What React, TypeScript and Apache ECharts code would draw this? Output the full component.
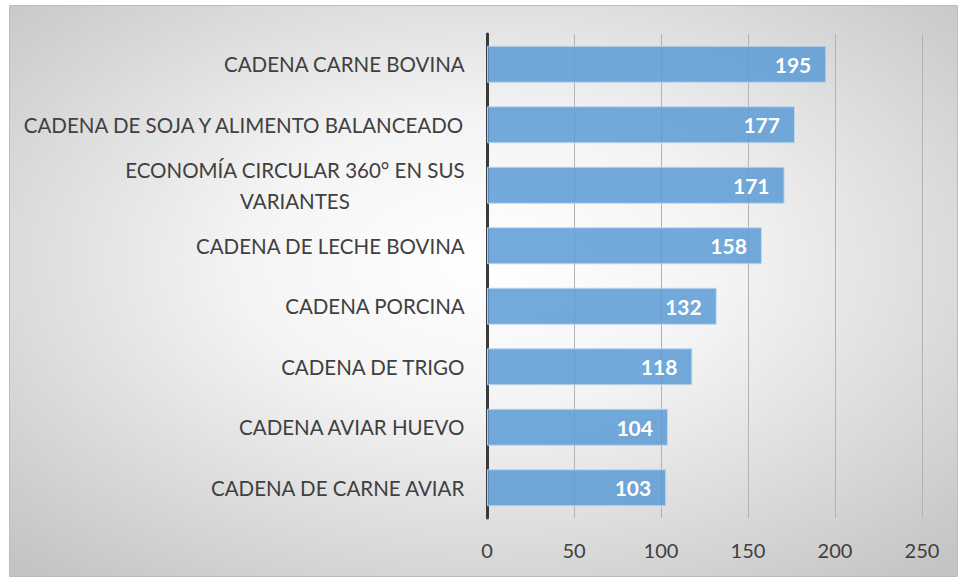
import React, { useEffect, useRef } from "react";
import * as echarts from "echarts";

const categories = [
  "CADENA CARNE BOVINA",
  "CADENA DE SOJA Y ALIMENTO BALANCEADO",
  "ECONOMÍA CIRCULAR 360° EN SUS\nVARIANTES",
  "CADENA DE LECHE BOVINA",
  "CADENA PORCINA",
  "CADENA DE TRIGO",
  "CADENA AVIAR HUEVO",
  "CADENA DE CARNE AVIAR",
];
const values = [195, 177, 171, 158, 132, 118, 104, 103];
const xTicks = { min: 0, max: 250, interval: 50 };

const FONT = "Lato, 'Open Sans', sans-serif";

export default function App() {
  const ref = useRef<HTMLDivElement>(null);
  useEffect(() => {
    if (!ref.current) return;
    const chart = echarts.init(ref.current, undefined, { renderer: "svg" });
    chart.setOption({
      animation: false,
      graphic: [
        {
          type: "rect",
          z: -10,
          silent: true,
          shape: { x: 9.5, y: 5.5, width: 948, height: 571 },
          style: {
            fill: new echarts.graphic.RadialGradient(0.5, 0.45, 0.72, [
              { offset: 0, color: "#ffffff" },
              { offset: 0.35, color: "#f4f4f4" },
              { offset: 1, color: "#c4c4c4" },
            ]),
            stroke: "#bdbdbd",
            lineWidth: 1,
          },
        },
      ],
      grid: { left: 487, right: 36, top: 34, bottom: 59, containLabel: false },
      xAxis: {
        type: "value",
        min: xTicks.min,
        max: xTicks.max,
        interval: xTicks.interval,
        axisLine: { show: false },
        axisTick: { show: false },
        splitLine: { show: true, lineStyle: { color: "#b3b3b3", width: 1 } },
        axisLabel: {
          color: "#404040",
          fontSize: 20,
          fontFamily: FONT,
          margin: 22,
        },
      },
      yAxis: {
        type: "category",
        inverse: true,
        data: categories,
        axisLine: { show: true, lineStyle: { color: "#3a3a3a", width: 3 } },
        axisTick: { show: false },
        axisLabel: {
          color: "#404040",
          fontSize: 20.5,
          fontFamily: FONT,
          margin: 22,
          lineHeight: 31,
          formatter: (v: string) =>
            v
              .split("\n")
              .map((l) => `{c|${l}}`)
              .join("\n"),
          rich: {
            c: {
              align: "center",
              color: "#404040",
              fontSize: 20.5,
              fontFamily: FONT,
              lineHeight: 31,
            },
          },
        },
      },
      series: [
        {
          type: "bar",
          data: values,
          barWidth: 37,
          itemStyle: {
            color: "rgba(91,155,213,0.85)",
            borderColor: "rgba(189,215,238,0.9)",
            borderWidth: 1,
          },
          label: {
            show: true,
            position: "insideRight",
            distance: 15,
            color: "#ffffff",
            fontWeight: "bold",
            fontSize: 21,
            fontFamily: FONT,
          },
        },
      ],
    });
    return () => chart.dispose();
  }, []);
  return (
    <div
      ref={ref}
      style={{ position: "absolute", left: 0, top: 0, width: 958, height: 577 }}
    />
  );
}
